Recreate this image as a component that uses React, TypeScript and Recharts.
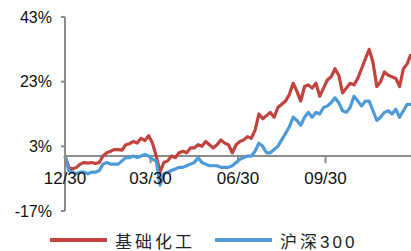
import { LineChart, Line, XAxis, YAxis, ReferenceLine } from 'recharts';

// 累计涨跌幅(%)，约每4个自然日取一点，起点 12/30
const chemPct = [
  0, -3.5, -4, -3.5, -2.5, -2, -2.2, -2, -2.3, -2,
  0, 1, 1.5, 2, 2, 1.8, 3.5, 3.8, 4.5, 4,
  5.5, 4.8, 6.3, 4, 0, -5, -2, -1.5, 0, -0.5,
  1, 1.5, 1, 2.5, 2.5, 3.5, 3, 4.5, 3.5, 2.5,
  3.5, 5, 4, 3.5, 1, 3.5, 4.5, 5, 6, 5.5,
  8, 13, 11.5, 12.5, 13.5, 12, 15, 16, 17, 19,
  22.5, 20, 17, 21.5, 22, 21, 22.5, 18.5, 21, 23.5,
  24.5, 27, 25, 19.5, 21, 22.5, 22, 24, 27, 30,
  33, 29, 21.5, 23, 26, 25, 24.5, 24, 21.5, 27,
  28.5, 31.5,
];

const hs300Pct = [
  0, -4.5, -5, -5.5, -5, -5, -5.5, -5, -5, -4.5,
  -2.5, -2, -2.5, -2.5, -2.5, -1.5, -0.5, -0.5, 0, -0.5,
  0, 0.5, 0, -1, -1.5, -9, -5.5, -5, -4.5, -4,
  -3.5, -3.5, -3, -2.5, -2, -0.5, -2, -2.5, -3, -3,
  -3, -3.5, -3.5, -3.5, -3, -2, -1, -0.5, 0, 0,
  1.5, 4, 3, 1, 1, 2, 3, 5, 7, 9,
  12, 11, 9.5, 12, 13.5, 12, 13.5, 13, 15, 15.5,
  16.5, 18, 16.5, 14, 13.5, 15, 18.5, 17, 15.5, 17,
  17, 14, 11, 12, 13.5, 14, 13, 14.5, 12, 14,
  16, 16,
];

const tickDays = [0, 90, 182, 274];
const tickLabels = ['12/30', '03/30', '06/30', '09/30'];
const yTicks = [-17, 3, 23, 43];

const series = [
  { key: 'chem', name: '基础化工', color: '#C2423E' },
  { key: 'hs300', name: '沪深300', color: '#4E9AD9' },
];

const data = chemPct.map((v, i) => ({ day: i * 4, chem: v, hs300: hs300Pct[i] }));

const FONT = '"Liberation Sans", Arial, "Noto Sans CJK SC", sans-serif';
const AXIS = '#8C8C8C';

export default function App() {
  return (
    <div style={{ position: 'absolute', left: 0, top: 0, width: 411, height: 251, background: '#fff', fontFamily: FONT }}>
      <LineChart width={411} height={251} data={data} margin={{ top: 17, right: 0, bottom: 40, left: 0 }}>
        <XAxis dataKey="day" type="number" domain={[0, 364]} hide />
        <YAxis
          type="number"
          domain={[-17, 43]}
          ticks={yTicks}
          interval={0}
          width={65}
          tickSize={4}
          tickMargin={9}
          tickFormatter={(v) => `${v}%`}
          axisLine={{ stroke: AXIS, strokeWidth: 2 }}
          tickLine={{ stroke: AXIS, strokeWidth: 2 }}
          tick={{ fill: '#111', fontSize: 16, fontFamily: FONT }}
        />
        <ReferenceLine y={0} stroke={AXIS} strokeWidth={2} />
        {tickDays.map((d, i) => (
          <ReferenceLine
            key={d}
            segment={[{ x: d, y: 0 }, { x: d, y: -2.2 }]}
            stroke={AXIS}
            strokeWidth={2}
            label={{ value: tickLabels[i], position: 'bottom', offset: 9, fill: '#111', fontSize: 17, fontFamily: FONT }}
          />
        ))}
        {series.map((s) => (
          <Line
            key={s.key}
            dataKey={s.key}
            name={s.name}
            stroke={s.color}
            strokeWidth={3.2}
            dot={false}
            isAnimationActive={false}
            strokeLinejoin="round"
          />
        ))}
      </LineChart>
      <div style={{ position: 'absolute', left: 50, top: 229, display: 'flex', alignItems: 'center', height: 22 }}>
        {series.map((s, i) => (
          <div key={s.key} style={{ display: 'flex', alignItems: 'center', marginLeft: i ? 20 : 0 }}>
            <div style={{ width: 57, height: 4, background: s.color }} />
            <span style={{ marginLeft: 8, fontSize: 17, letterSpacing: 3, color: '#222', fontFamily: FONT }}>{s.name}</span>
          </div>
        ))}
      </div>
    </div>
  );
}
